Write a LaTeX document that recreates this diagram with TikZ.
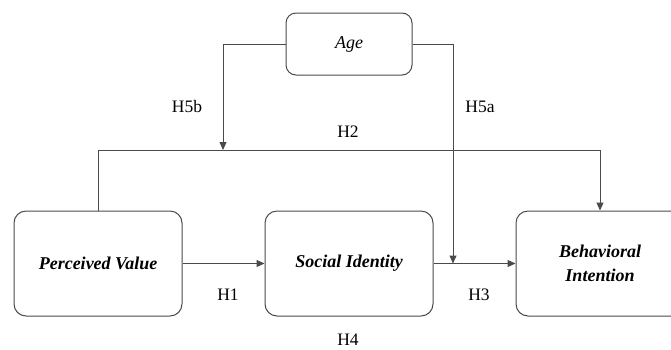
\documentclass[tikz,border=0pt]{standalone}
\usepackage{fontspec}
\setmainfont{Liberation Serif}
\newfontfamily\tnr{Liberation Serif}
\usetikzlibrary{arrows.meta}
\definecolor{linegray}{HTML}{4A4A4A}
\begin{document}
\begin{tikzpicture}[x=1pt,y=-1pt,
  box/.style={draw=linegray,line width=1pt,rounded corners=12pt,fill=white,
    minimum width=168pt,minimum height=105pt,inner sep=0pt,align=center,
    font=\tnr\fontsize{18}{24}\selectfont\bfseries\itshape},
  agebox/.style={draw=linegray,line width=1pt,rounded corners=10pt,fill=white,
    minimum width=126pt,minimum height=62pt,inner sep=0pt,
    font=\tnr\fontsize{18}{22}\selectfont\itshape},
  conn/.style={draw=linegray,line width=1pt},
  arr/.style={conn,-{Triangle[length=8pt,width=7pt]}},
  hlab/.style={font=\tnr\fontsize{17.5}{20}\selectfont,inner sep=0pt}]
\useasboundingbox (0,0) rectangle (671,349);
\node[agebox] (age) at (349,44) {Age};
\node[box] (pv) at (98,263.5) {Perceived Value};
\node[box] (si) at (349,263.5) {Social Identity};
\node[box] (bi) at (600,263.5) {Behavioral\\Intention};
\coordinate (m1) at (223,150);
\coordinate (m2) at (453,263.5);
\coordinate (c1) at (98,150);
\draw[arr] (pv.north) -- (c1) -| (bi.north);
\draw[arr] (age.west) -| (m1);
\draw[arr] (age.east) -| (m2);
\draw[arr] (pv.east) -- (si.west);
\draw[arr] (si.east) -- (bi.west);
\node[hlab] (h5b) at (187,107) {H5b};
\node[hlab] (h5a) at (480,107) {H5a};
\node[hlab] (h2) at (348,132) {H2};
\node[hlab] (h1) at (228,295) {H1};
\node[hlab] (h3) at (479,295) {H3};
\node[hlab] (h4) at (348,340) {H4};
\end{tikzpicture}
\end{document}
